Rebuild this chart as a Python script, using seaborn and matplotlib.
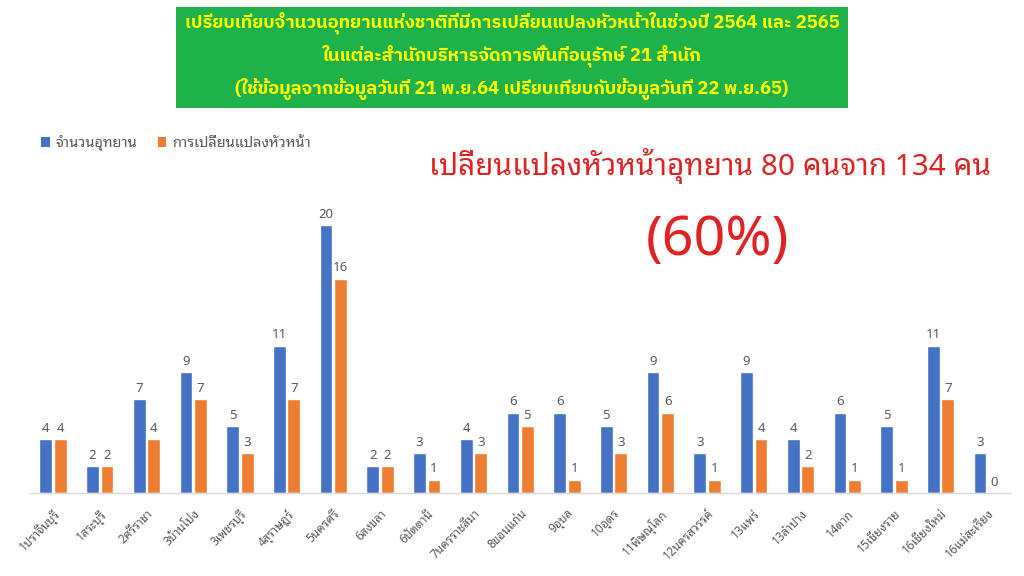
import matplotlib
matplotlib.use("Agg")
import matplotlib.pyplot as plt
import seaborn as sns
import pandas as pd

categories = ["1ปราจีนบุรี", "1สระบุรี", "2ศรีราชา", "3บ้านโป่ง", "3เพชรบุรี", "4สุราษฎร์",
              "5นครศรี", "6สงขลา", "6ปัตตานี", "7นครราชสีมา", "8ขอนแก่น", "9อุบล", "10อุดร",
              "11พิษณุโลก", "12นครสวรรค์", "13แพร่", "13ลำปาง", "14ตาก", "15เชียงราย",
              "16เชียงใหม่", "16แม่สะเรียง"]
parks = [4, 2, 7, 9, 5, 11, 20, 2, 3, 4, 6, 6, 5, 9, 3, 9, 4, 6, 5, 11, 3]
changes = [4, 2, 4, 7, 3, 7, 16, 2, 1, 3, 5, 1, 3, 6, 1, 4, 2, 1, 1, 7, 0]
series_names = ["จำนวนอุทยาน", "การเปลี่ยนแปลงหัวหน้า"]
title_lines = ["เปรียบเทียบจำนวนอุทยานแห่งชาติที่มีการเปลี่ยนแปลงหัวหน้าในช่วงปี 2564 และ 2565",
               "ในแต่ละสำนักบริหารจัดการพื้นที่อนุรักษ์ 21 สำนัก",
               "(ใช้ข้อมูลจากข้อมูลวันที่ 21 พ.ย.64 เปรียบเทียบกับข้อมูลวันที่ 22 พ.ย.65)"]
headline = "เปลี่ยนแปลงหัวหน้าอุทยาน 80 คนจาก 134 คน"
percent = "(60%)"

sns.set_theme(style="white")
plt.rcParams['font.family'] = ['Noto Sans Thai Looped', 'DejaVu Sans']

df = pd.DataFrame({
    "cat": categories * 2,
    "value": parks + changes,
    "series": [series_names[0]] * len(parks) + [series_names[1]] * len(changes),
})

fig = plt.figure(figsize=(10.24, 5.76), dpi=100)
ax = fig.add_axes([0.029, 0.144, 0.958, 0.512])
palette = {series_names[0]: "#4472C4", series_names[1]: "#ED7D31"}
sns.barplot(data=df, x="cat", y="value", hue="series", palette=palette, ax=ax,
            width=0.62, gap=0.12, saturation=1, legend=False, order=categories)

for cont in ax.containers:
    ax.bar_label(cont, fmt="%d", padding=3, fontsize=9.5, color="#595959")

ax.set_xlim(-0.5, len(categories) - 0.5)
ax.set_ylim(0, 22)
ax.set_xlabel("")
ax.set_ylabel("")
ax.set_yticks([])
for s in ["top", "right", "left"]:
    ax.spines[s].set_visible(False)
ax.spines["bottom"].set_color("#D9D9D9")
ax.spines["bottom"].set_linewidth(1)
ax.tick_params(axis="x", length=0, pad=10)
ax.set_xticks(range(len(categories)))
ax.set_xticklabels(categories, rotation=45, ha="right", rotation_mode="anchor",
                   fontsize=8.5, color="#595959")

# legend
from matplotlib.patches import Patch
handles = [Patch(facecolor=palette[n], edgecolor="none", label=n) for n in series_names]
fig.legend(handles=handles, loc="upper left", bbox_to_anchor=(0.027, 0.788), ncol=2,
           frameon=False, fontsize=10.5, handlelength=0.6, handleheight=0.6,
           handletextpad=0.4, columnspacing=1.4, labelcolor="#595959")

# title box
from matplotlib.patches import Rectangle
fig.patches.append(Rectangle((176 / 1024, 1 - 108 / 576), (848 - 176) / 1024, 101 / 576,
                             transform=fig.transFigure, facecolor="#1FB24A", edgecolor="none",
                             zorder=0))
for i, line in enumerate(title_lines):
    fig.text(512 / 1024, 1 - (23 + i * 33) / 576, line, ha="center", va="center",
             fontsize=13.2, fontweight="bold", color="#FFFF00",
             family=["IBM Plex Sans Thai", "DejaVu Sans"])

fig.text(710 / 1024, 1 - 166 / 576, headline, ha="center", va="center",
         fontsize=21.4, color="#E02222", family=["Noto Sans Thai Looped", "DejaVu Sans"])
fig.text(717 / 1024, 1 - 240 / 576, percent, ha="center", va="center",
         fontsize=40, color="#E02222", family=["Noto Sans Thai Looped", "DejaVu Sans"])

fig.savefig("out.png", dpi=100)
